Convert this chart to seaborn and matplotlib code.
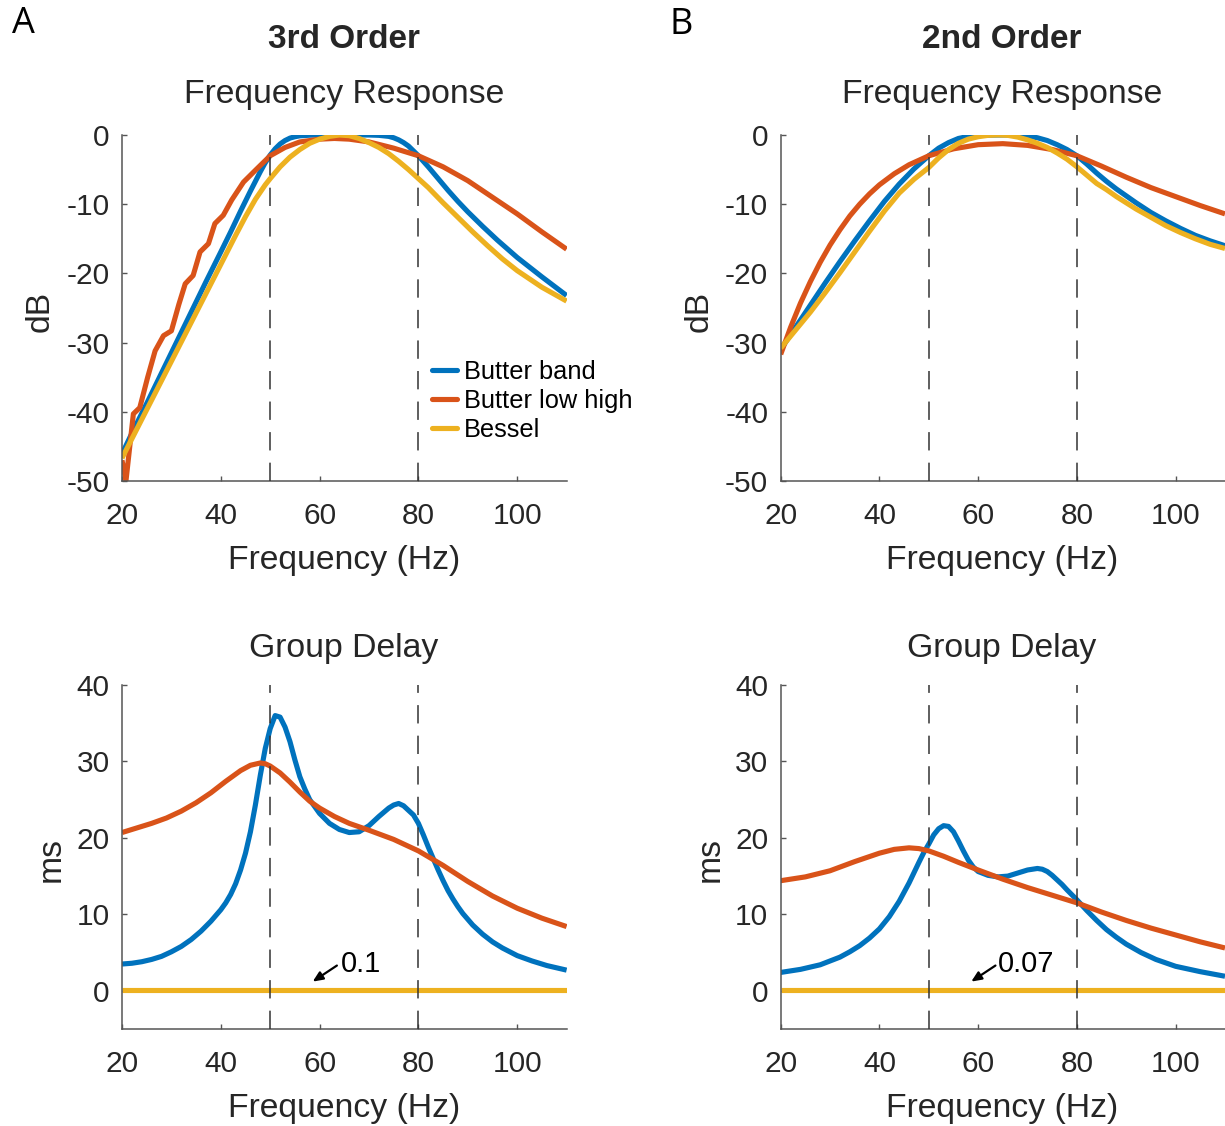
import matplotlib
matplotlib.use("Agg")
import matplotlib.pyplot as plt
from matplotlib.lines import Line2D
import pandas as pd
import seaborn as sns

sns.set_theme(style="ticks")
plt.rcParams["font.family"] = ["Liberation Sans", "DejaVu Sans"]
plt.rcParams["axes.unicode_minus"] = False

# ---------------------------------------------------------------- data
FILTERS = ["Butter band", "Butter low high", "Bessel"]
COLORS = {"Butter band": "#0072BD", "Butter low high": "#D95319", "Bessel": "#EDB120"}
CUTOFFS = [50, 80]
X_TICKS = [20, 40, 60, 80, 100]
FR_Y_TICKS = [0, -10, -20, -30, -40, -50]
GD_Y_TICKS = [0, 10, 20, 30, 40]

# 3rd order, frequency response (dB)
fr3_band_f = [20, 22, 25, 28, 31, 34, 37, 40, 42, 44, 46, 47, 48, 49, 50, 51, 52, 53, 54,
              55, 56, 58, 60, 65, 70, 72, 74, 75, 76, 77, 78, 79, 80, 82, 84, 86, 88, 90,
              93, 96, 100, 105, 110]
fr3_band_db = [-46.1, -43.1, -38.8, -34.4, -30.0, -25.6, -21.2, -16.9, -14.0, -11.0, -8.1,
               -6.7, -5.3, -4.0, -2.9, -2.0, -1.3, -0.8, -0.45, -0.25, -0.12, -0.03, 0.0,
               0.0, 0.0, -0.05, -0.2, -0.4, -0.7, -1.1, -1.6, -2.3, -3.0, -4.6, -6.3, -8.0,
               -9.6, -11.1, -13.2, -15.2, -17.7, -20.5, -23.2]
fr3_lowhigh_f = [20, 20.8, 22.3, 23.6, 25.2, 26.7, 28.4, 30, 31.5, 32.8, 34.4, 35.8, 37.5,
                 38.8, 40.5, 42.2, 44.6, 47, 50, 53, 56, 60, 63, 66, 70, 75, 80, 85, 90,
                 95, 100, 105, 110]
fr3_lowhigh_db = [-47.0, -50.0, -40.3, -39.4, -35.0, -31.2, -29.0, -28.3, -24.5, -21.5,
                  -20.3, -16.9, -15.7, -12.8, -11.6, -9.4, -6.8, -5.1, -3.0, -1.8, -1.0,
                  -0.6, -0.5, -0.6, -1.0, -1.9, -3.0, -4.6, -6.6, -9.0, -11.4, -14.0, -16.5]
fr3_bessel_f = [20, 23, 26, 29, 32, 35, 38, 41, 43, 45, 47, 49, 50, 52, 54, 56, 58, 60, 62,
                64, 66, 68, 70, 72, 74, 76, 78, 80, 82, 85, 88, 91, 94, 97, 100, 105, 110]
fr3_bessel_db = [-46.7, -42.5, -38.3, -34.1, -29.9, -25.7, -21.5, -17.3, -14.5, -11.8, -9.3,
                 -7.2, -6.3, -4.6, -3.2, -2.1, -1.2, -0.6, -0.2, 0.0, -0.1, -0.5, -1.1,
                 -1.8, -2.7, -3.8, -5.0, -6.3, -7.6, -9.8, -11.9, -14.0, -16.0, -17.9,
                 -19.6, -22.0, -24.0]

# 2nd order, frequency response (dB)
fr2_band_f = [20, 23, 26, 29, 32, 35, 38, 41, 44, 47, 50, 52, 54, 56, 58, 60, 64, 68, 70,
              72, 74, 76, 78, 80, 82, 84, 86, 88, 90, 92, 95, 98, 101, 104, 107, 110]
fr2_band_db = [-31.0, -27.8, -24.6, -21.4, -18.3, -15.3, -12.4, -9.6, -7.1, -4.9, -3.0,
               -1.9, -1.1, -0.5, -0.2, -0.05, 0.0, 0.0, -0.15, -0.4, -0.8, -1.4, -2.1,
               -3.0, -4.2, -5.5, -6.7, -7.8, -8.8, -9.8, -11.2, -12.4, -13.5, -14.5,
               -15.3, -16.0]
fr2_lowhigh_f = [20, 22, 24, 26, 28, 30, 32, 34, 36, 38, 40, 43, 46, 50, 55, 60, 65, 70, 75,
                 80, 85, 90, 95, 100, 105, 110]
fr2_lowhigh_db = [-31.7, -27.8, -24.3, -21.2, -18.4, -15.9, -13.7, -11.7, -10.0, -8.5, -7.2,
                  -5.6, -4.3, -3.0, -2.0, -1.4, -1.25, -1.5, -2.1, -3.0, -4.5, -6.1, -7.6,
                  -8.9, -10.2, -11.4]
fr2_bessel_f = [20, 23, 26, 29, 32, 35, 38, 41, 44, 47, 50, 52, 54, 56, 58, 60, 62, 64, 66,
                68, 70, 72, 74, 76, 78, 80, 82, 84, 86, 88, 90, 92, 95, 98, 101, 104, 107, 110]
fr2_bessel_db = [-30.8, -28.2, -25.6, -22.8, -19.9, -16.9, -13.9, -11.0, -8.4, -6.4, -4.7,
                 -3.3, -2.1, -1.2, -0.6, -0.25, -0.05, 0.0, -0.05, -0.3, -0.7, -1.2, -1.8,
                 -2.6, -3.5, -4.6, -5.8, -7.0, -7.9, -8.9, -9.8, -10.7, -11.9, -13.1,
                 -14.1, -15.0, -15.8, -16.4]

# 3rd order, group delay (ms)
gd3_band_f = [20, 22, 24, 26, 28, 30, 32, 34, 36, 38, 40, 41, 42, 43, 44, 45, 46, 47, 48,
              49, 50, 51, 52, 53, 54, 55, 56, 57, 58, 60, 62, 64, 66, 68, 70, 72, 74, 75,
              76, 77, 78, 79, 80, 81, 82, 83, 84, 85, 86, 87, 88, 89, 91, 93, 95, 97, 100,
              103, 106, 110]
gd3_band_ms = [3.5, 3.6, 3.8, 4.1, 4.5, 5.1, 5.8, 6.7, 7.8, 9.1, 10.6, 11.5, 12.6, 14.0,
               15.8, 18.0, 20.8, 24.3, 28.2, 31.7, 34.3, 36.0, 35.8, 34.5, 32.6, 30.2, 28.0,
               26.4, 25.0, 23.2, 21.9, 21.1, 20.7, 20.8, 21.6, 22.8, 23.9, 24.3, 24.5, 24.2,
               23.6, 23.0, 21.9, 20.4, 18.8, 17.3, 15.8, 14.4, 13.1, 12.0, 11.0, 10.1, 8.6,
               7.4, 6.4, 5.6, 4.6, 3.9, 3.3, 2.7]
gd3_lowhigh_f = [20, 23, 26, 29, 32, 35, 38, 41, 44, 46, 48, 49, 50, 52, 54, 56, 58, 60, 63,
                 66, 70, 75, 80, 85, 90, 95, 100, 105, 110]
gd3_lowhigh_ms = [20.7, 21.3, 21.9, 22.6, 23.5, 24.6, 25.9, 27.4, 28.8, 29.5, 29.8, 29.7,
                  29.4, 28.5, 27.3, 26.0, 24.8, 23.9, 22.8, 21.9, 21.0, 19.8, 18.3, 16.4,
                  14.3, 12.4, 10.8, 9.5, 8.4]
gd3_bessel_f = [20, 110]
gd3_bessel_ms = [0.1, 0.1]

# 2nd order, group delay (ms)
gd2_band_f = [20, 22, 24, 26, 28, 30, 32, 34, 36, 38, 40, 42, 44, 46, 48, 49, 50, 51, 52,
              53, 54, 55, 56, 57, 58, 59, 60, 62, 64, 66, 68, 70, 72, 73, 74, 75, 76, 77,
              78, 80, 82, 84, 86, 88, 90, 93, 96, 100, 105, 110]
gd2_band_ms = [2.4, 2.6, 2.8, 3.1, 3.4, 3.9, 4.4, 5.1, 5.9, 6.9, 8.1, 9.7, 11.7, 14.1, 16.8,
               18.1, 19.2, 20.4, 21.2, 21.6, 21.5, 20.8, 19.6, 18.3, 17.1, 16.2, 15.6, 15.1,
               14.9, 15.0, 15.4, 15.8, 16.0, 15.9, 15.6, 15.1, 14.5, 13.9, 13.2, 11.9, 10.5,
               9.2, 8.0, 7.0, 6.1, 5.0, 4.1, 3.2, 2.5, 1.9]
gd2_lowhigh_f = [20, 25, 30, 35, 40, 43, 46, 48, 50, 53, 56, 60, 65, 70, 75, 80, 85, 90, 95,
                 100, 105, 110]
gd2_lowhigh_ms = [14.4, 14.9, 15.7, 16.9, 18.0, 18.5, 18.7, 18.6, 18.3, 17.6, 16.8, 15.8,
                  14.6, 13.5, 12.5, 11.5, 10.3, 9.2, 8.2, 7.3, 6.4, 5.6]
gd2_bessel_f = [20, 110]
gd2_bessel_ms = [0.07, 0.07]

BESSEL_GD_LABELS = {"3rd": "0.1", "2nd": "0.07"}


def long_frame(series):
    parts = []
    for name, (f, v) in zip(FILTERS, series):
        parts.append(pd.DataFrame({"freq": f, "value": v, "filter": name}))
    return pd.concat(parts, ignore_index=True)


fr3 = long_frame([(fr3_band_f, fr3_band_db), (fr3_lowhigh_f, fr3_lowhigh_db),
                  (fr3_bessel_f, fr3_bessel_db)])
fr2 = long_frame([(fr2_band_f, fr2_band_db), (fr2_lowhigh_f, fr2_lowhigh_db),
                  (fr2_bessel_f, fr2_bessel_db)])
gd3 = long_frame([(gd3_band_f, gd3_band_ms), (gd3_lowhigh_f, gd3_lowhigh_ms),
                  (gd3_bessel_f, gd3_bessel_ms)])
gd2 = long_frame([(gd2_band_f, gd2_band_ms), (gd2_lowhigh_f, gd2_lowhigh_ms),
                  (gd2_bessel_f, gd2_bessel_ms)])

# ---------------------------------------------------------------- layout (pixels)
W, H = 1225, 1126
TXT = "#262626"
AXC = "#555555"
LW = 3.7

fig = plt.figure(figsize=(W / 100, H / 100), dpi=100)


def rect(left, top, right, bottom):
    return [left / W, 1 - bottom / H, (right - left) / W, (bottom - top) / H]


def fpos(x, y):
    return x / W, 1 - y / H


ax_fr3 = fig.add_axes(rect(122, 135, 566.6, 481))
ax_fr2 = fig.add_axes(rect(780.7, 135, 1225, 481))
ax_gd3 = fig.add_axes(rect(122, 685, 566.6, 1029))
ax_gd2 = fig.add_axes(rect(780.7, 685, 1225, 1029))


def style_axes(ax, ylim, yticks):
    ax.set_xlim(20, 110)
    ax.set_ylim(*ylim)
    ax.set_xticks(X_TICKS)
    ax.set_yticks(yticks)
    ax.set_xlabel("")
    ax.set_ylabel("")
    for s in ("top", "right"):
        ax.spines[s].set_visible(False)
    for s in ("left", "bottom"):
        ax.spines[s].set_color(AXC)
        ax.spines[s].set_linewidth(1.1)
    ax.tick_params(direction="in", length=3.3, width=1.0, color=AXC,
                   labelsize=21.5, labelcolor=TXT)
    ax.tick_params(axis="x", pad=15.0)
    ax.tick_params(axis="y", pad=9.0)
    for c in CUTOFFS:
        ax.axvline(c, color="#333333", lw=1.1, linestyle=(0, (12, 8)), zorder=5)


def draw(ax, df):
    sns.lineplot(data=df, x="freq", y="value", hue="filter", hue_order=FILTERS,
                 palette=COLORS, estimator=None, linewidth=LW, legend=False, ax=ax)
    for ln in ax.lines:
        ln.set_solid_capstyle("butt")
        ln.set_solid_joinstyle("round")


draw(ax_fr3, fr3)
draw(ax_fr2, fr2)
draw(ax_gd3, gd3)
draw(ax_gd2, gd2)

style_axes(ax_fr3, (-50, 0), FR_Y_TICKS)
style_axes(ax_fr2, (-50, 0), FR_Y_TICKS)
style_axes(ax_gd3, (-5, 40), GD_Y_TICKS)
style_axes(ax_gd2, (-5, 40), GD_Y_TICKS)

for ax in (ax_fr3, ax_fr2, ax_gd3, ax_gd2):
    ax.patch.set_alpha(0)

# legend
handles = [Line2D([0], [0], color=COLORS[k], lw=LW) for k in FILTERS]
ax_fr3.legend(handles, FILTERS, loc="upper left", bbox_to_anchor=(0.697, 0.35),
              frameon=False, fontsize=18.3, handlelength=1.0, handletextpad=0.25,
              labelspacing=0.2, borderpad=0, borderaxespad=0,
              labelcolor="#000000")

# annotations for the Bessel group delay
for ax, key, txt_x in ((ax_gd3, "3rd", 64.3), (ax_gd2, "2nd", 64.0)):
    ax.annotate("", xy=(58.6, 1.2), xytext=(63.5, 3.3),
                arrowprops=dict(arrowstyle="-|>,head_length=0.5,head_width=0.22",
                                color="black", lw=1.6, shrinkA=0, shrinkB=0),
                zorder=6)
    ax.text(txt_x, 3.5, BESSEL_GD_LABELS[key], fontsize=21, color="black",
            ha="left", va="center", zorder=6)

# titles and axis labels
fig.text(*fpos(344, 40), "3rd Order", fontsize=24, fontweight="bold", color=TXT,
         ha="center", va="center")
fig.text(*fpos(1002, 40), "2nd Order", fontsize=24, fontweight="bold", color=TXT,
         ha="center", va="center")
for cx in (344, 1002):
    fig.text(*fpos(cx, 95), "Frequency Response", fontsize=24.3, color=TXT,
             ha="center", va="center")
    fig.text(*fpos(cx, 648), "Group Delay", fontsize=24.3, color=TXT,
             ha="center", va="center")
    fig.text(*fpos(cx, 560), "Frequency (Hz)", fontsize=24.3, color=TXT,
             ha="center", va="center")
    fig.text(*fpos(cx, 1108), "Frequency (Hz)", fontsize=24.3, color=TXT,
             ha="center", va="center")

fig.text(*fpos(40, 311), "dB", fontsize=24.3, color=TXT, rotation=90,
         ha="center", va="center")
fig.text(*fpos(699, 311), "dB", fontsize=24.3, color=TXT, rotation=90,
         ha="center", va="center")
fig.text(*fpos(51, 859), "ms", fontsize=24.3, color=TXT, rotation=90,
         ha="center", va="center")
fig.text(*fpos(710, 859), "ms", fontsize=24.3, color=TXT, rotation=90,
         ha="center", va="center")

# panel letters
fig.text(*fpos(23, 24), "A", fontsize=26, color="black", ha="center", va="center",
         family=["Open Sans", "DejaVu Sans"])
fig.text(*fpos(681, 25), "B", fontsize=26, color="black", ha="center", va="center",
         family=["Open Sans", "DejaVu Sans"])

fig.savefig("out.png", dpi=100, facecolor="white")
